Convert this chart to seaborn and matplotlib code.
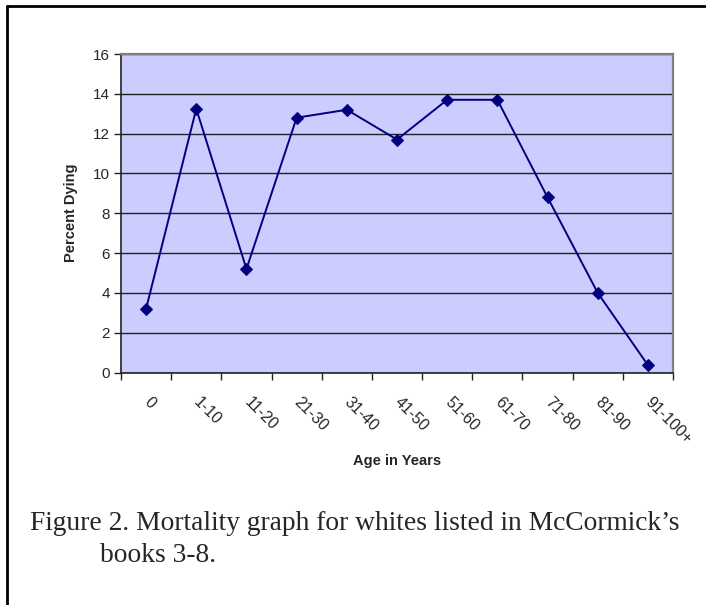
import numpy as np
import pandas as pd
import matplotlib
matplotlib.use("Agg")
import matplotlib.pyplot as plt
from matplotlib.lines import Line2D
import seaborn as sns

# Mortality data
age_groups = ["0", "1-10", "11-20", "21-30", "31-40", "41-50",
              "51-60", "61-70", "71-80", "81-90", "91-100+"]
percent_dying = [3.2, 13.25, 5.2, 12.8, 13.2, 11.7, 13.7, 13.7, 8.8, 4.0, 0.37]
y_ticks = [0, 2, 4, 6, 8, 10, 12, 14, 16]

LINE_COLOR = "#000080"
PLOT_BG = "#CCCCFF"

sns.set_style("white")
plt.rcParams["font.family"] = ["Liberation Sans", "DejaVu Sans"]

df = pd.DataFrame({"pos": np.arange(len(age_groups)),
                   "age": age_groups,
                   "pct": percent_dying})

fig = plt.figure(figsize=(7.06, 6.05), dpi=100)
ax = fig.add_axes([121 / 706, 1 - 372.5 / 605, (673 - 121) / 706, (372.5 - 54) / 605])
ax.set_facecolor(PLOT_BG)

sns.lineplot(data=df, x="pos", y="pct", ax=ax, color=LINE_COLOR, linewidth=1.4,
             marker="D", markersize=6.5, markeredgecolor=LINE_COLOR, markerfacecolor=LINE_COLOR)

ax.set_xlim(-0.5, len(age_groups) - 0.5)
ax.set_ylim(0, 16)
ax.set_yticks(y_ticks)
ax.yaxis.grid(True, color="#222222", linewidth=1.0)
ax.set_axisbelow(True)

# ticks on category boundaries, labels at category centres
ax.set_xticks(np.arange(-0.5, len(age_groups), 1.0))
ax.set_xticklabels([])
ax.set_xticks(df["pos"], age_groups, minor=True)
ax.tick_params(axis="x", which="major", direction="out", length=5, width=1, color="#222222")
ax.tick_params(axis="x", which="minor", length=0, pad=20, labelsize=11.5)
for lbl in ax.get_xticklabels(minor=True):
    lbl.set_rotation(-45)
    lbl.set_ha("left")
    lbl.set_va("center")
    lbl.set_rotation_mode("anchor")
ax.tick_params(axis="y", direction="out", length=5, width=1, color="#222222",
               labelsize=11, pad=3)
ax.tick_params(left=True, bottom=True)

for side in ["top", "right"]:
    ax.spines[side].set_color("#808080")
    ax.spines[side].set_linewidth(1.6)
for side in ["left", "bottom"]:
    ax.spines[side].set_color("#222222")
    ax.spines[side].set_linewidth(1.2)

ax.set_ylabel("Percent Dying", fontsize=10.5, fontweight="bold", labelpad=11)
ax.set_xlabel("")
fig.text(0.5 * (121 + 673) / 706, 1 - 461 / 605, "Age in Years",
         ha="center", va="center", fontsize=10.5, fontweight="bold")

# caption below the chart
fig.text(30 / 706, 1 - 530 / 605,
         "Figure 2. Mortality graph for whites listed in McCormick\u2019s",
         family=["Liberation Serif", "DejaVu Serif"], fontsize=19.8, ha="left", va="baseline")
fig.text(100 / 706, 1 - 562 / 605, "books 3-8.",
         family=["Liberation Serif", "DejaVu Serif"], fontsize=19.8, ha="left", va="baseline")

# outer frame: left and top rule
fig.add_artist(Line2D([7 / 706, 7 / 706], [0, 1 - 6 / 605], color="black", linewidth=2))
fig.add_artist(Line2D([7 / 706, 1], [1 - 6 / 605, 1 - 6 / 605], color="black", linewidth=2))

fig.savefig("out.png", dpi=100)
plt.close(fig)
